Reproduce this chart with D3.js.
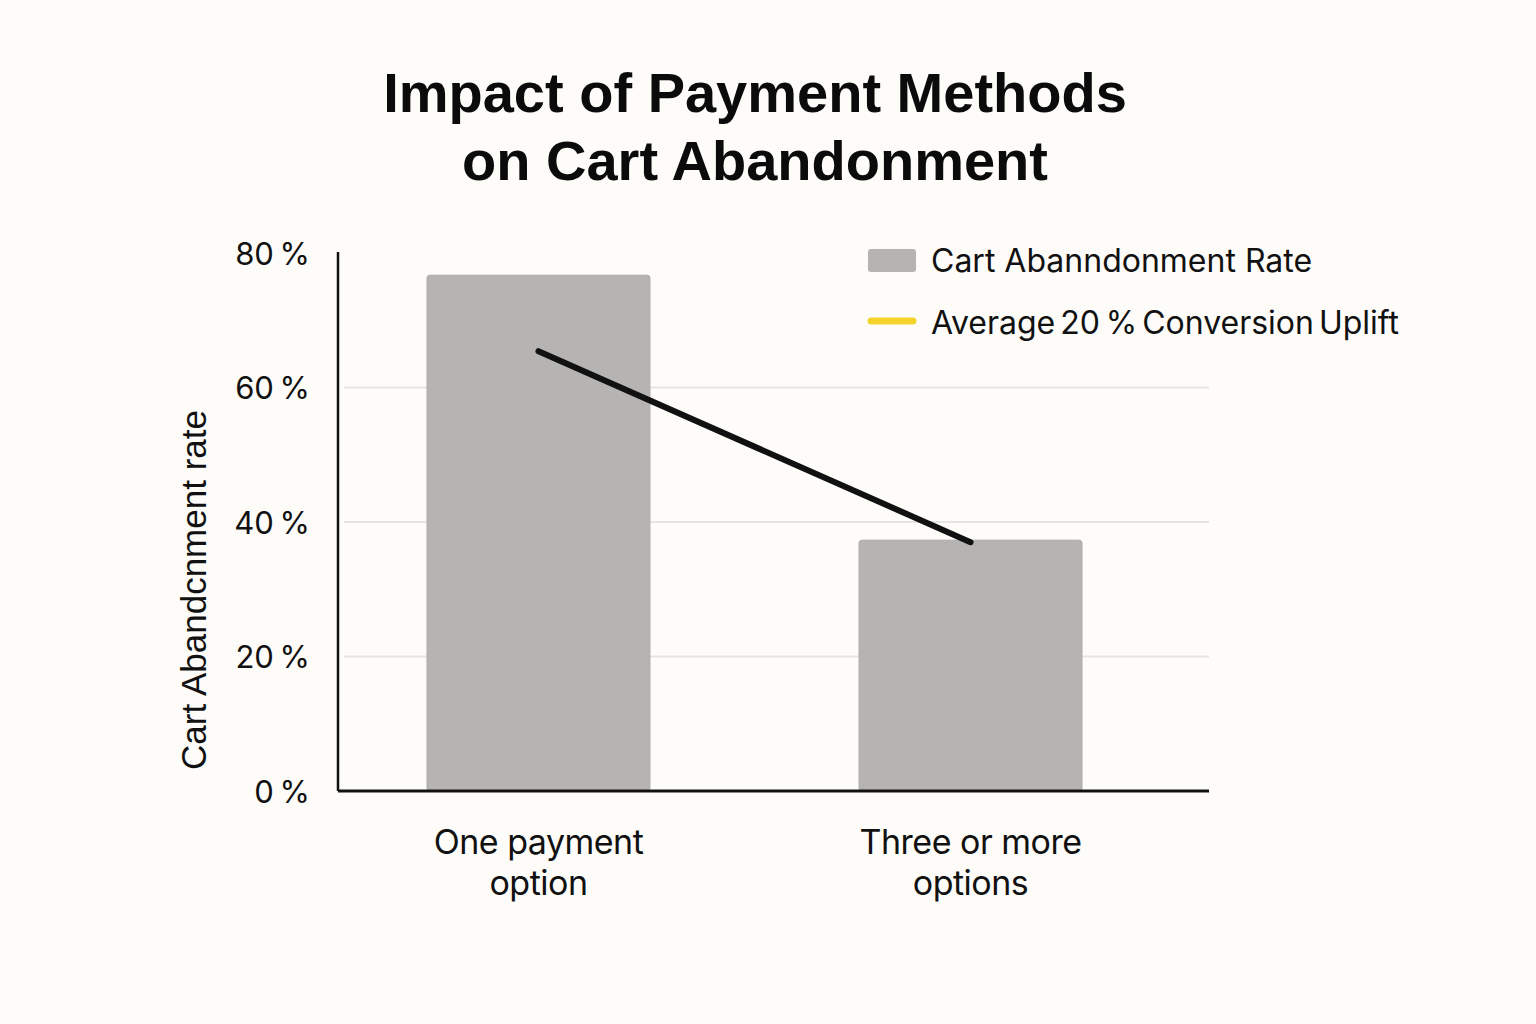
<!DOCTYPE html>
<html>
<head>
<meta charset="utf-8">
<script src="https://cdn.jsdelivr.net/npm/d3@7"></script>
<style>
  body { margin: 0; background: #fdfcf9; }
  svg { display: block; }
</style>
</head>
<body>
<div id="chart"></div>
<script>
// data
var categories = ["One payment option", "Three or more options"];
var categoryLines = [["One payment", "option"], ["Three or more", "options"]];
var abandonRate = [76.7, 37.3];
var upliftLine = [65.4, 37.0];
var yTicks = [0, 20, 40, 60, 80];
var legendLabels = ["Cart Abanndonment Rate", "Average 20\u2009% Conversion Uplift"];

var W = 1536, H = 1024;
var plot = {left: 338, right: 1209, top: 253, bottom: 791};

var svg = d3.select("#chart").append("svg")
    .attr("width", W)
    .attr("height", H);

svg.append("rect").attr("width", W).attr("height", H).attr("fill", "#fdfcf9");

// title
var title = svg.append("text")
    .attr("x", 755)
    .attr("text-anchor", "middle")
    .style("font-family", "'Liberation Sans', Arial, sans-serif")
    .style("font-weight", "bold")
    .style("font-size", "56px")
    .style("fill", "#0b0b0b");
title.append("tspan").attr("x", 755).attr("y", 112).text("Impact of Payment Methods");
title.append("tspan").attr("x", 755).attr("y", 180).text("on Cart Abandonment");

// scales
var x = d3.scaleBand()
    .domain(categories)
    .range([plot.left, 1171])
    .paddingInner(0.484)
    .paddingOuter(0.206);

var y = d3.scaleLinear()
    .domain([0, 80])
    .range([plot.bottom, plot.top]);

// gridlines
svg.append("g")
    .selectAll("line")
    .data(yTicks.filter(function(d) { return d > 0 && d < 80; }))
    .enter().append("line")
    .attr("x1", plot.left + 6)
    .attr("x2", plot.right)
    .attr("y1", function(d) { return y(d); })
    .attr("y2", function(d) { return y(d); })
    .style("stroke", "#e7e5e1")
    .style("stroke-width", 2);

// bars
svg.append("g")
    .selectAll("rect")
    .data(categories)
    .enter().append("rect")
    .attr("x", function(d) { return x(d); })
    .attr("width", x.bandwidth())
    .attr("y", function(d, i) { return y(abandonRate[i]); })
    .attr("height", function(d, i) { return plot.bottom - y(abandonRate[i]); })
    .attr("rx", 3)
    .style("fill", "#b6b4b2")
    .style("stroke", "#adaba9")
    .style("stroke-width", 1);

// the uplift line
var line = d3.line()
    .x(function(d, i) { return x(categories[i]) + x.bandwidth() / 2; })
    .y(function(d) { return y(d); });

svg.append("path")
    .datum(upliftLine)
    .attr("d", line)
    .style("fill", "none")
    .style("stroke", "#111111")
    .style("stroke-width", 6)
    .style("stroke-linecap", "round");

// y axis
var yAxis = svg.append("g")
    .attr("transform", "translate(" + plot.left + ",0)")
    .call(d3.axisLeft(y).tickValues(yTicks).tickSize(0).tickPadding(28)
        .tickFormat(function(d) { return d + "\u2009%"; }));
yAxis.select(".domain").style("stroke", "#111").style("stroke-width", 2.5)
    .attr("d", "M0," + (plot.top - 1) + "V" + plot.bottom);
yAxis.selectAll("text")
    .style("font-family", "Inter, 'Noto Sans', sans-serif")
    .style("font-size", "31px")
    .style("fill", "#111")
    .attr("dy", "0.36em");

// x axis
var xAxis = svg.append("g")
    .attr("transform", "translate(0," + plot.bottom + ")")
    .call(d3.axisBottom(x).tickSize(0).tickFormat(""));
xAxis.select(".domain").style("stroke", "#111").style("stroke-width", 3)
    .attr("d", "M" + plot.left + ",0H" + plot.right);

xAxis.selectAll(".tick").each(function(d, i) {
    var t = d3.select(this).select("text")
        .attr("y", 0)
        .attr("dy", null)
        .style("font-family", "Inter, 'Noto Sans', sans-serif")
        .style("font-size", "34px")
        .style("letter-spacing", "-0.5px")
        .style("fill", "#111");
    categoryLines[i].forEach(function(s, k) {
        t.append("tspan").attr("x", 0).attr("y", 63 + k * 41).text(s);
    });
});

// y axis label
svg.append("text")
    .attr("transform", "translate(206,590) rotate(-90)")
    .attr("text-anchor", "middle")
    .style("font-family", "'Liberation Sans', Arial, sans-serif")
    .style("font-size", "35px")
    .style("fill", "#111")
    .text("Cart Abandcnment rate");

// legend
var legend = svg.append("g");
legend.append("rect")
    .attr("x", 868).attr("y", 249)
    .attr("width", 48).attr("height", 23)
    .attr("rx", 3)
    .style("fill", "#b6b4b2");
legend.append("line")
    .attr("x1", 871).attr("x2", 913)
    .attr("y1", 321).attr("y2", 321)
    .style("stroke", "#f6d32a")
    .style("stroke-width", 7)
    .style("stroke-linecap", "round");
legend.selectAll("text")
    .data(legendLabels)
    .enter().append("text")
    .attr("x", 931)
    .attr("y", function(d, i) { return 272 + i * 62; })
    .style("font-family", "Inter, 'Noto Sans', sans-serif")
    .style("font-size", "32px")
    .style("word-spacing", function(d, i) { return i === 1 ? "-4px" : "0px"; })
    .style("fill", "#111")
    .text(function(d) { return d; });
</script>
</body>
</html>
